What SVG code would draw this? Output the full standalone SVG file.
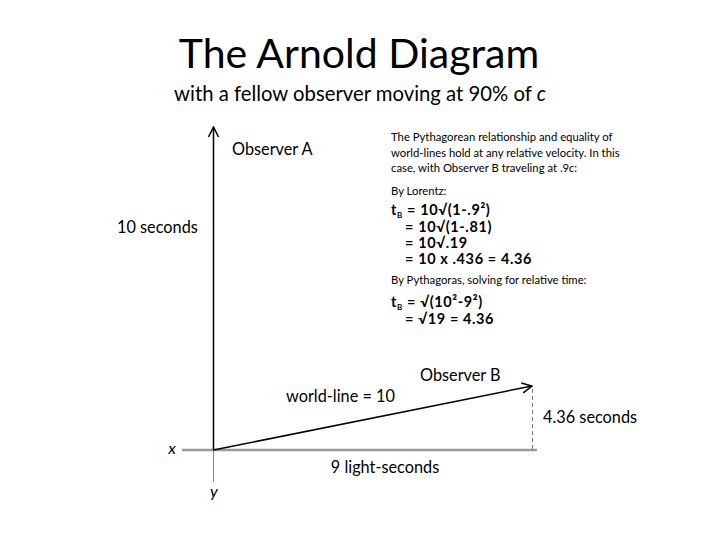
<svg xmlns="http://www.w3.org/2000/svg" width="720" height="540" viewBox="0 0 720 540">
<style>
  text { font-family: Lato, "Open Sans", "Liberation Sans", sans-serif; fill: #000; }
  .title { font-size: 41px; }
  .sub { font-size: 20.3px; }
  .lbl { font-size: 16.3px; }
  .small { font-size: 11.3px; }
  .eq { font-size: 14.5px; font-weight: bold; letter-spacing: 0.6px; }
  .ax { stroke: #000; stroke-width: 1.5; fill: none; }
  .gray { stroke: #999; stroke-width: 2.5; fill: none; }
  .thin { stroke: #888; stroke-width: 1; fill: none; }
  .dash { stroke: #777; stroke-width: 1; stroke-dasharray: 4 3; fill: none; }
</style>
<defs>
  <marker id="open" viewBox="0 0 12 12" refX="11" refY="6" markerWidth="12" markerHeight="12" markerUnits="userSpaceOnUse" orient="auto">
    <path d="M1,1 L11,6 L1,11" fill="none" stroke="#000" stroke-width="1.5"/>
  </marker>
</defs>
<rect width="720" height="540" fill="#fff"/>
<g id="heading">
  <text class="title" x="359" y="68" text-anchor="middle">The Arnold Diagram</text>
  <text class="sub" x="360" y="101" text-anchor="middle">with a fellow observer moving at 90% of <tspan font-style="italic">c</tspan></text>
</g>
<g id="connectors">
  <line class="gray" x1="182" y1="450" x2="537" y2="450"/>
  <line class="thin" x1="213.5" y1="450" x2="213.5" y2="482"/>
  <line class="ax" x1="213.5" y1="450" x2="213.5" y2="127" marker-end="url(#open)"/>
  <line class="ax" x1="213.5" y1="450" x2="532" y2="386" marker-end="url(#open)"/>
  <line class="dash" x1="532.5" y1="389" x2="532.5" y2="450"/>
</g>
<g id="observer-a"><text class="lbl" x="232" y="155">Observer A</text></g>
<g id="ten-seconds"><text class="lbl" x="117" y="233">10 seconds</text></g>
<g id="observer-b"><text class="lbl" x="420" y="381">Observer B</text></g>
<g id="world-line"><text class="lbl" x="286" y="402">world-line = 10</text></g>
<g id="four-seconds"><text class="lbl" x="543" y="423">4.36 seconds</text></g>
<g id="x-label"><text class="lbl" x="172" y="454" text-anchor="middle" font-style="italic" font-size="17">x</text></g>
<g id="y-label"><text class="lbl" x="214" y="497" text-anchor="middle" font-style="italic" font-size="17">y</text></g>
<g id="light-seconds"><text class="lbl" x="385" y="473" text-anchor="middle">9 light-seconds</text></g>
<g id="explanation">
  <text class="small" x="391" y="141">The Pythagorean relationship and equality of</text>
  <text class="small" x="391" y="157">world-lines hold at any relative velocity.  In this</text>
  <text class="small" x="391" y="172">case, with Observer B traveling at .9<tspan font-style="italic">c</tspan>:</text>
  <text class="small" x="391" y="195">By Lorentz:</text>
  <text class="eq" x="391" y="215">t<tspan font-size="8" dy="3">B</tspan><tspan dy="-3"> = 10√(1-.9²)</tspan></text>
  <text class="eq" x="405" y="232">= 10√(1-.81)</text>
  <text class="eq" x="405" y="248">= 10√.19</text>
  <text class="eq" x="405" y="264">= 10 x .436 = 4.36</text>
  <text class="small" x="391" y="284">By Pythagoras, solving for relative time:</text>
  <text class="eq" x="391" y="307">t<tspan font-size="8" dy="3">B</tspan><tspan dy="-3"> = √(10²-9²)</tspan></text>
  <text class="eq" x="405" y="324">= √19 = 4.36</text>
</g>
</svg>
